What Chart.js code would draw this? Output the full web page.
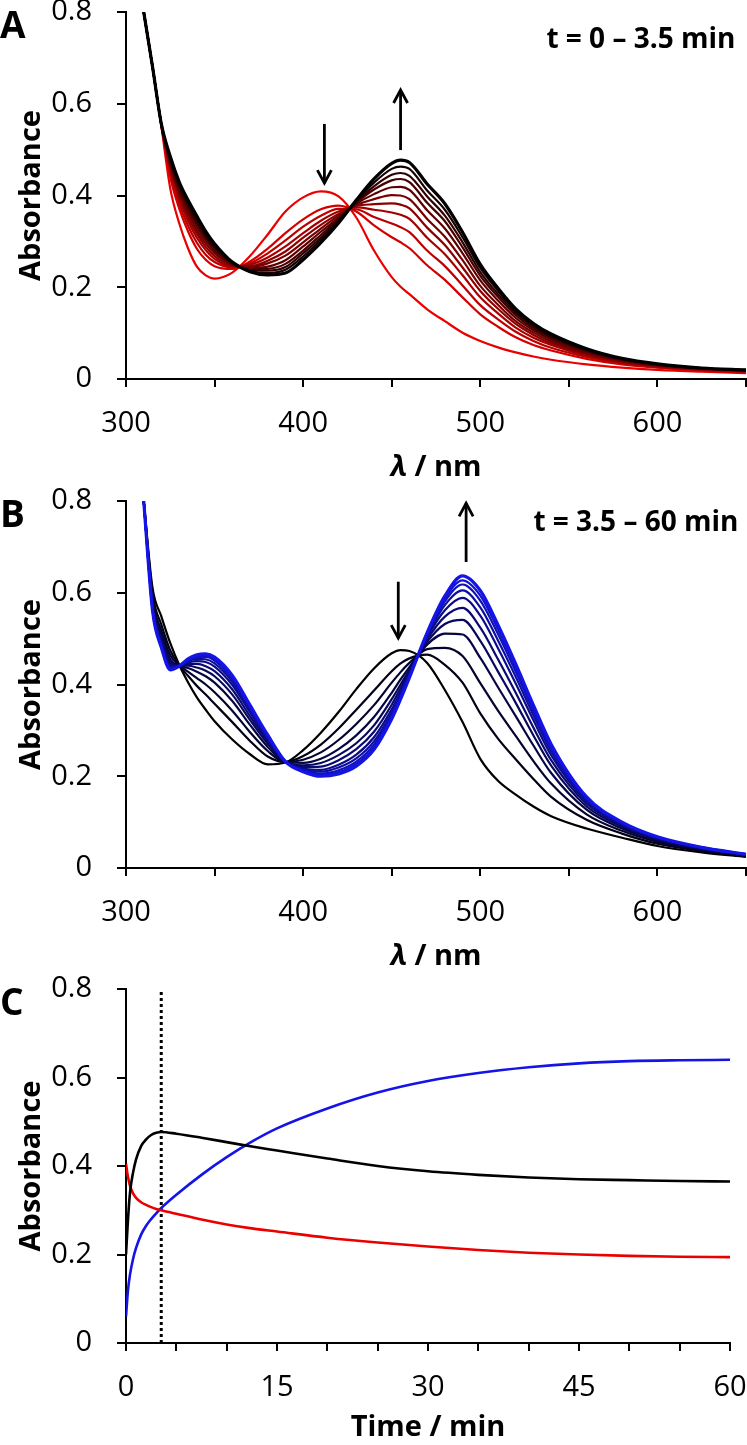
<!DOCTYPE html>
<html>
<head>
<meta charset="utf-8">
<script src="https://cdn.jsdelivr.net/npm/chart.js@4.4.1/dist/chart.umd.min.js"></script>
<style>
  html, body { margin: 0; padding: 0; background: #fff; }
  #wrap { position: relative; width: 747px; height: 1445px; }
  canvas { position: absolute; left: 0; }
</style>
</head>
<body>
<div id="wrap">
  <canvas id="chartA" width="747" height="490" style="top:0"></canvas>
  <canvas id="chartB" width="747" height="500" style="top:480px"></canvas>
  <canvas id="chartC" width="747" height="485" style="top:960px"></canvas>
</div>
<script>
// wavelength grid (nm) shared by all spectra
var wavelengths = [310, 315, 320, 325, 330, 335, 340, 345, 350, 360, 370, 380, 390, 400, 410, 420, 430, 440, 450, 455,
                   460, 470, 480, 490, 500, 510, 520, 530, 540, 560, 580, 600, 625, 650];

// panel A: t = 0 - 3.5 min (red -> black)
var specA0  = [0.80, 0.68, 0.55, 0.415, 0.34, 0.285, 0.245, 0.226, 0.219, 0.232, 0.268, 0.315, 0.365, 0.396, 0.409, 0.398, 0.352, 0.28, 0.222, 0.201, 0.185, 0.152, 0.126, 0.101, 0.083, 0.069, 0.058, 0.049, 0.042, 0.032, 0.025, 0.02, 0.016, 0.013];
var specA1  = [0.80, 0.68, 0.552, 0.44, 0.372, 0.322, 0.284, 0.26, 0.246, 0.24, 0.256, 0.284, 0.318, 0.348, 0.37, 0.378, 0.365, 0.335, 0.309, 0.298, 0.285, 0.248, 0.216, 0.178, 0.141, 0.114, 0.091, 0.074, 0.062, 0.044, 0.032, 0.025, 0.019, 0.015];
var specA2  = [0.80, 0.68, 0.552, 0.448, 0.382, 0.334, 0.297, 0.271, 0.255, 0.243, 0.252, 0.274, 0.302, 0.332, 0.356, 0.371, 0.37, 0.353, 0.339, 0.331, 0.32, 0.28, 0.246, 0.204, 0.161, 0.13, 0.103, 0.083, 0.068, 0.048, 0.034, 0.026, 0.02, 0.016];
var specA3  = [0.80, 0.68, 0.553, 0.455, 0.391, 0.345, 0.308, 0.281, 0.262, 0.245, 0.249, 0.265, 0.289, 0.318, 0.345, 0.365, 0.374, 0.369, 0.363, 0.358, 0.349, 0.308, 0.272, 0.226, 0.178, 0.143, 0.112, 0.09, 0.074, 0.051, 0.036, 0.027, 0.021, 0.017];
var specA4  = [0.80, 0.68, 0.553, 0.461, 0.399, 0.353, 0.317, 0.288, 0.268, 0.247, 0.246, 0.258, 0.278, 0.308, 0.336, 0.36, 0.377, 0.381, 0.383, 0.38, 0.372, 0.33, 0.292, 0.243, 0.192, 0.153, 0.12, 0.096, 0.078, 0.054, 0.038, 0.028, 0.021, 0.018];
var specA5  = [0.80, 0.68, 0.554, 0.465, 0.405, 0.361, 0.324, 0.295, 0.274, 0.249, 0.244, 0.252, 0.269, 0.298, 0.328, 0.356, 0.379, 0.392, 0.401, 0.4, 0.392, 0.349, 0.31, 0.259, 0.203, 0.162, 0.126, 0.101, 0.082, 0.056, 0.039, 0.029, 0.022, 0.018];
var specA6  = [0.80, 0.68, 0.554, 0.47, 0.411, 0.368, 0.332, 0.302, 0.279, 0.25, 0.241, 0.245, 0.259, 0.289, 0.321, 0.352, 0.382, 0.403, 0.418, 0.419, 0.412, 0.368, 0.328, 0.274, 0.215, 0.171, 0.133, 0.106, 0.086, 0.059, 0.041, 0.03, 0.022, 0.019];
var specA7  = [0.80, 0.68, 0.554, 0.475, 0.417, 0.374, 0.339, 0.308, 0.284, 0.252, 0.239, 0.24, 0.251, 0.28, 0.314, 0.349, 0.384, 0.413, 0.433, 0.436, 0.429, 0.384, 0.344, 0.287, 0.225, 0.179, 0.139, 0.11, 0.09, 0.061, 0.042, 0.031, 0.023, 0.019];
var specA8  = [0.80, 0.68, 0.555, 0.478, 0.421, 0.38, 0.344, 0.312, 0.287, 0.253, 0.237, 0.236, 0.244, 0.274, 0.308, 0.346, 0.386, 0.42, 0.445, 0.449, 0.443, 0.398, 0.356, 0.298, 0.233, 0.185, 0.144, 0.114, 0.092, 0.063, 0.043, 0.032, 0.023, 0.019];
var specA9  = [0.80, 0.68, 0.555, 0.482, 0.426, 0.385, 0.35, 0.317, 0.291, 0.254, 0.236, 0.231, 0.238, 0.267, 0.303, 0.343, 0.388, 0.428, 0.458, 0.463, 0.458, 0.411, 0.369, 0.309, 0.242, 0.192, 0.148, 0.117, 0.095, 0.064, 0.044, 0.032, 0.024, 0.02];
var specA10 = [0.80, 0.68, 0.555, 0.485, 0.43, 0.39, 0.355, 0.322, 0.295, 0.255, 0.234, 0.227, 0.231, 0.26, 0.297, 0.34, 0.39, 0.436, 0.47, 0.477, 0.472, 0.425, 0.382, 0.32, 0.25, 0.198, 0.153, 0.121, 0.098, 0.066, 0.045, 0.033, 0.024, 0.02];

// panel B: t = 3.5 - 60 min (black -> blue)
var specB0  = [0.80, 0.61, 0.548, 0.49, 0.443, 0.405, 0.372, 0.345, 0.32, 0.28, 0.248, 0.226, 0.23, 0.257, 0.295, 0.34, 0.39, 0.435, 0.468, 0.475, 0.473, 0.447, 0.388, 0.318, 0.238, 0.19, 0.16, 0.134, 0.113, 0.086, 0.066, 0.048, 0.034, 0.024];
var specB1  = [0.80, 0.597, 0.53, 0.474, 0.442, 0.419, 0.397, 0.378, 0.358, 0.318, 0.277, 0.243, 0.231, 0.244, 0.269, 0.304, 0.345, 0.387, 0.429, 0.446, 0.457, 0.465, 0.443, 0.404, 0.337, 0.282, 0.237, 0.194, 0.155, 0.105, 0.075, 0.053, 0.037, 0.026];
var specB2  = [0.80, 0.588, 0.517, 0.464, 0.442, 0.428, 0.414, 0.4, 0.383, 0.343, 0.296, 0.255, 0.231, 0.236, 0.252, 0.279, 0.314, 0.355, 0.404, 0.427, 0.447, 0.477, 0.48, 0.462, 0.403, 0.343, 0.288, 0.233, 0.184, 0.117, 0.081, 0.057, 0.039, 0.027];
var specB3  = [0.80, 0.58, 0.507, 0.455, 0.441, 0.436, 0.428, 0.418, 0.404, 0.364, 0.312, 0.264, 0.231, 0.229, 0.238, 0.259, 0.289, 0.329, 0.382, 0.411, 0.438, 0.487, 0.511, 0.509, 0.458, 0.394, 0.331, 0.267, 0.207, 0.127, 0.086, 0.06, 0.041, 0.028];
var specB4  = [0.80, 0.575, 0.5, 0.449, 0.441, 0.441, 0.437, 0.43, 0.418, 0.378, 0.323, 0.271, 0.231, 0.224, 0.229, 0.246, 0.272, 0.311, 0.368, 0.4, 0.432, 0.493, 0.532, 0.541, 0.495, 0.428, 0.36, 0.289, 0.223, 0.134, 0.09, 0.062, 0.042, 0.028];
var specB5  = [0.80, 0.571, 0.495, 0.445, 0.441, 0.445, 0.445, 0.44, 0.429, 0.389, 0.331, 0.276, 0.232, 0.22, 0.221, 0.235, 0.259, 0.297, 0.356, 0.392, 0.428, 0.498, 0.548, 0.567, 0.524, 0.455, 0.382, 0.306, 0.235, 0.14, 0.093, 0.064, 0.043, 0.029];
var specB6  = [0.80, 0.568, 0.49, 0.441, 0.44, 0.448, 0.451, 0.449, 0.439, 0.399, 0.339, 0.28, 0.232, 0.217, 0.214, 0.225, 0.247, 0.285, 0.346, 0.384, 0.424, 0.503, 0.562, 0.589, 0.55, 0.479, 0.402, 0.322, 0.246, 0.145, 0.095, 0.065, 0.043, 0.029];
var specB7  = [0.80, 0.565, 0.487, 0.438, 0.44, 0.451, 0.456, 0.455, 0.446, 0.406, 0.344, 0.284, 0.232, 0.215, 0.21, 0.219, 0.239, 0.276, 0.339, 0.379, 0.421, 0.506, 0.573, 0.605, 0.568, 0.496, 0.417, 0.333, 0.254, 0.148, 0.097, 0.066, 0.044, 0.029];
var specB8  = [0.80, 0.563, 0.484, 0.435, 0.44, 0.453, 0.459, 0.46, 0.452, 0.412, 0.349, 0.286, 0.232, 0.213, 0.206, 0.213, 0.232, 0.269, 0.334, 0.374, 0.418, 0.509, 0.581, 0.618, 0.583, 0.51, 0.428, 0.342, 0.261, 0.151, 0.098, 0.067, 0.044, 0.03];
var specB9  = [0.80, 0.562, 0.482, 0.434, 0.44, 0.454, 0.462, 0.463, 0.456, 0.416, 0.352, 0.288, 0.232, 0.211, 0.203, 0.209, 0.227, 0.263, 0.329, 0.371, 0.417, 0.511, 0.587, 0.627, 0.594, 0.52, 0.436, 0.348, 0.265, 0.153, 0.099, 0.067, 0.045, 0.03];
var specB10 = [0.80, 0.56, 0.48, 0.432, 0.44, 0.456, 0.465, 0.467, 0.46, 0.42, 0.355, 0.29, 0.232, 0.21, 0.2, 0.205, 0.222, 0.258, 0.325, 0.368, 0.415, 0.513, 0.593, 0.637, 0.605, 0.53, 0.445, 0.355, 0.27, 0.155, 0.1, 0.068, 0.045, 0.03];

// panel C: kinetic traces
var timeMin = [0, 0.2, 0.4, 0.7, 1, 1.5, 2, 2.5, 3, 3.5, 5, 7.5, 10, 12.5, 15, 20, 25, 30, 35, 40, 45, 50, 55, 60];
var abs413  = [0.405, 0.375, 0.355, 0.338, 0.328, 0.318, 0.312, 0.307, 0.303, 0.30, 0.292, 0.279, 0.268, 0.259, 0.252, 0.238, 0.227, 0.218, 0.21, 0.204, 0.2, 0.197, 0.195, 0.194];
var abs455  = [0.20, 0.28, 0.34, 0.385, 0.415, 0.445, 0.46, 0.47, 0.475, 0.477, 0.473, 0.464, 0.454, 0.444, 0.435, 0.417, 0.4, 0.388, 0.38, 0.374, 0.37, 0.368, 0.366, 0.365];
var abs490  = [0.06, 0.12, 0.155, 0.19, 0.215, 0.245, 0.265, 0.28, 0.293, 0.305, 0.335, 0.38, 0.42, 0.455, 0.485, 0.53, 0.566, 0.592, 0.61, 0.623, 0.632, 0.637, 0.639, 0.64];
var switchTime = 3.5;

var FONT = '"Open Sans", sans-serif';
Chart.defaults.font.family = FONT;
Chart.defaults.color = '#000';

// letters, labels, arrows, lambda title
var notesPlugin = {
    id: 'notes',
    afterDraw: function (chart, args, o) {
        var ctx = chart.ctx, xs = chart.scales.x, ys = chart.scales.y;
        ctx.save();
        ctx.fillStyle = '#000';
        ctx.strokeStyle = '#000';
        ctx.textBaseline = 'middle';

        ctx.font = 'bold 37px ' + FONT;
        ctx.textAlign = 'left';
        ctx.fillText(o.letter, 0, ys.top + 15);

        if (o.label) {
            ctx.font = 'bold 28px ' + FONT;
            ctx.textAlign = 'right';
            ctx.fillText(o.label, xs.getPixelForValue(o.labelAt[0]), ys.getPixelForValue(o.labelAt[1]));
        }

        (o.arrows || []).forEach(function (a) {
            var x = xs.getPixelForValue(a[0]);
            var y0 = ys.getPixelForValue(a[1]);
            var y1 = ys.getPixelForValue(a[2]);
            var dir = y1 > y0 ? 1 : -1;
            ctx.lineWidth = 2.8;
            ctx.beginPath();
            ctx.moveTo(x, y0);
            ctx.lineTo(x, y1);
            ctx.stroke();
            ctx.beginPath();
            ctx.moveTo(x - 7, y1 - dir * 13);
            ctx.lineTo(x, y1);
            ctx.lineTo(x + 7, y1 - dir * 13);
            ctx.stroke();
        });

        if (o.lambdaTitle) {
            var y = ys.bottom + 89;
            ctx.font = 'italic bold 29px ' + FONT;
            var w1 = ctx.measureText('λ').width;
            ctx.font = 'bold 29px ' + FONT;
            var w2 = ctx.measureText(' / nm').width;
            var x0 = (xs.left + xs.right) / 2 - (w1 + w2) / 2;
            ctx.textAlign = 'left';
            ctx.font = 'italic bold 29px ' + FONT;
            ctx.fillText('λ', x0, y);
            ctx.font = 'bold 29px ' + FONT;
            ctx.fillText(' / nm', x0 + w1, y);
        }
        ctx.restore();
    }
};

function yAxis() {
    return {
        min: 0,
        max: 0.8,
        ticks: { stepSize: 0.2, padding: 25, font: { size: 29 }, color: '#000' },
        grid: { drawOnChartArea: false, drawTicks: true, tickLength: 9, color: '#000', lineWidth: 2 },
        border: { color: '#000', width: 2 },
        title: { display: true, text: 'Absorbance', color: '#000', font: { size: 29, weight: 'bold' }, padding: { top: 14, bottom: 0 } },
        afterFit: function (s) { s.width = 126; s.paddingTop = 0; s.paddingBottom = 0; }
    };
}

function xAxis(min, max, step, labelEvery, height, title) {
    return {
        type: 'linear',
        min: min,
        max: max,
        ticks: {
            stepSize: step, autoSkip: false, maxRotation: 0, padding: 19, font: { size: 29 }, color: '#000',
            callback: function (v) { return v % labelEvery === 0 ? String(v) : ''; }
        },
        grid: { drawOnChartArea: false, drawTicks: true, tickLength: 8, color: '#000', lineWidth: 2 },
        border: { color: '#000', width: 2 },
        title: title ? { display: true, text: title, color: '#000', font: { size: 29, weight: 'bold' }, padding: { top: 0, bottom: 0 } } : { display: false },
        afterFit: function (s) { s.height = height; s.paddingLeft = 0; s.paddingRight = 0; }
    };
}

function mix(c1, c2, t) {
    return 'rgb(' + c1.map(function (v, k) { return Math.round(v + (c2[k] - v) * t); }).join(',') + ')';
}

function spectraSets(list, from, to) {
    return list.map(function (vals, i) {
        var t = i / (list.length - 1);
        return {
            data: vals.map(function (v, k) { return { x: wavelengths[k], y: v }; }),
            borderColor: mix(from, to, t),
            borderWidth: i === list.length - 1 ? 3.2 : 2.2,
            pointRadius: 0,
            cubicInterpolationMode: 'monotone',
            order: list.length - i
        };
    });
}

function baseOptions(padTop, padRight, xCfg, notes) {
    return {
        responsive: false,
        animation: false,
        layout: { padding: { top: padTop, right: padRight, bottom: 0, left: 0 } },
        plugins: { legend: { display: false }, tooltip: { enabled: false }, notes: notes },
        scales: { x: xCfg, y: yAxis() }
    };
}

function fnSpectraA() {
    var ctx = document.getElementById('chartA').getContext('2d');
    new Chart(ctx, {
        type: 'line',
        data: {
            datasets: spectraSets([specA0, specA1, specA2, specA3, specA4, specA5, specA6, specA7, specA8, specA9, specA10],
                [235, 0, 0], [0, 0, 0])
        },
        options: baseOptions(12, 1, xAxis(300, 650, 50, 100, 111), {
            letter: 'A',
            label: 't = 0 – 3.5 min',
            labelAt: [644, 0.739],
            arrows: [[412, 0.556, 0.427], [455, 0.499, 0.63]],
            lambdaTitle: true
        }),
        plugins: [notesPlugin]
    });
}

function fnSpectraB() {
    var ctx = document.getElementById('chartB').getContext('2d');
    new Chart(ctx, {
        type: 'line',
        data: {
            datasets: spectraSets([specB0, specB1, specB2, specB3, specB4, specB5, specB6, specB7, specB8, specB9, specB10],
                [0, 0, 0], [20, 20, 230])
        },
        options: baseOptions(21, 1, xAxis(300, 650, 50, 100, 112), {
            letter: 'B',
            label: 't = 3.5 – 60 min',
            labelAt: [645.7, 0.752],
            arrows: [[453.7, 0.624, 0.501], [492, 0.667, 0.795]],
            lambdaTitle: true
        }),
        plugins: [notesPlugin]
    });
}

function fnKinetics() {
    var ctx = document.getElementById('chartC').getContext('2d');
    function trace(vals, color) {
        return {
            data: vals.map(function (v, k) { return { x: timeMin[k], y: v }; }),
            borderColor: color,
            borderWidth: 2.6,
            pointRadius: 0,
            cubicInterpolationMode: 'monotone'
        };
    }
    new Chart(ctx, {
        type: 'line',
        data: {
            datasets: [
                trace(abs455, '#000'),
                trace(abs413, 'rgb(235,0,0)'),
                trace(abs490, 'rgb(20,20,230)'),
                {
                    data: [{ x: switchTime, y: 0 }, { x: switchTime, y: 0.8 }],
                    borderColor: '#000',
                    borderWidth: 3,
                    borderDash: [3, 3],
                    pointRadius: 0
                }
            ]
        },
        options: baseOptions(29, 17, xAxis(0, 60, 5, 15, 102, 'Time / min'), { letter: 'C' }),
        plugins: [notesPlugin]
    });
}

fnSpectraA();
fnSpectraB();
fnKinetics();
</script>
</body>
</html>
